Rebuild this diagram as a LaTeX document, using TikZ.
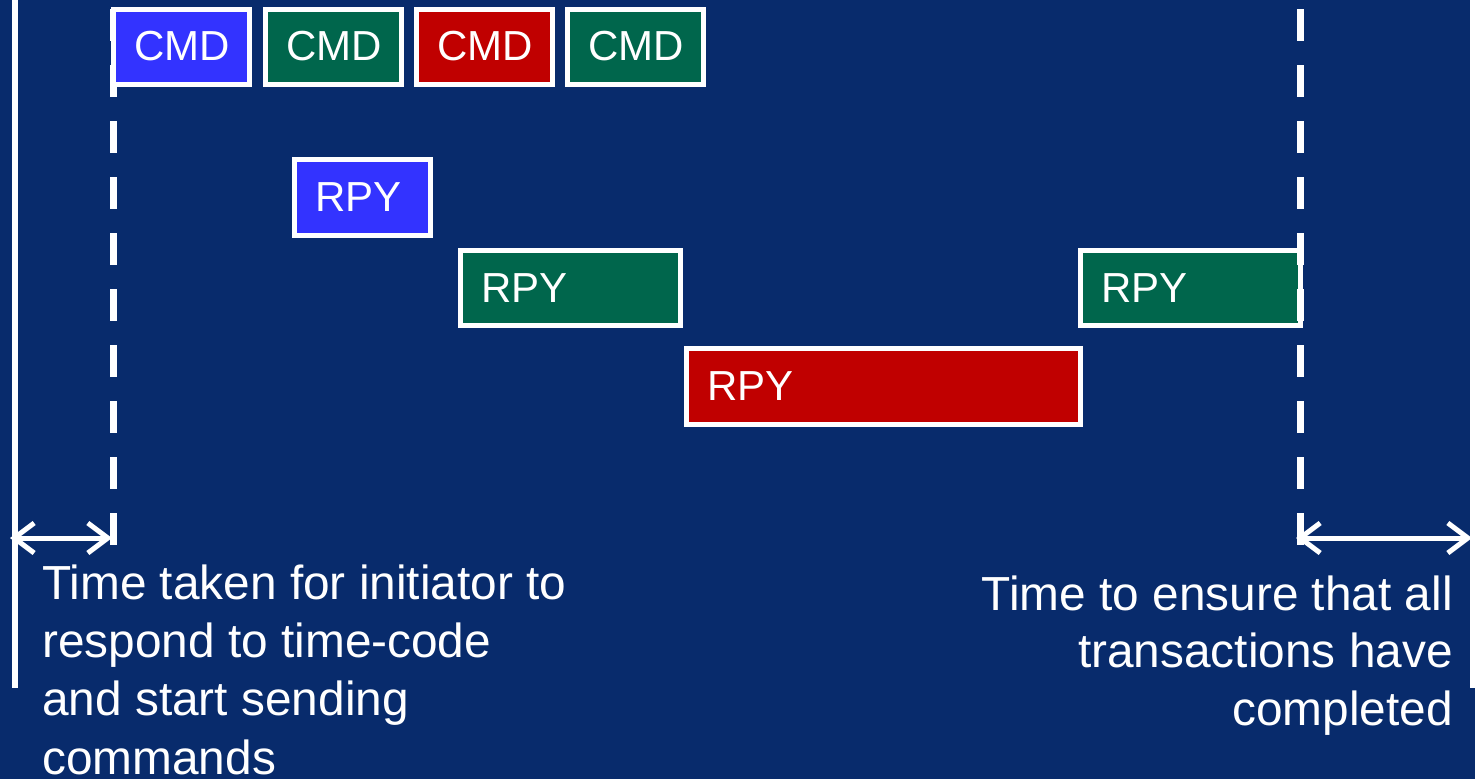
\documentclass[tikz,border=0pt]{standalone}
\usepackage{fontspec}
\setmainfont{Liberation Sans}
\usetikzlibrary{arrows.meta}
\definecolor{bg}{RGB}{8,43,108}
\definecolor{cblue}{RGB}{51,51,255}
\definecolor{cgreen}{RGB}{0,102,76}
\definecolor{cred}{RGB}{192,0,0}
\tikzset{
  box/.style={draw=white, line width=5pt, text=white, outer sep=0pt,
    inner xsep=21pt, inner ysep=0pt, align=left, anchor=north west,
    font=\fontsize{42}{50}\selectfont},
  cmdbox/.style={box, minimum width=136pt, text width=94pt, minimum height=75pt},
  vline/.style={white, line width=6pt},
  dline/.style={white, line width=7pt, dash pattern=on 32pt off 24pt},
  span/.style={white, line width=5pt, {Straight Barb[length=20pt,width=30pt]}-{Straight Barb[length=20pt,width=30pt]}},
  note/.style={text=white, inner sep=0pt}
}
\begin{document}
\begin{tikzpicture}[x=1pt,y=-1pt]
\fill[bg] (0,0) rectangle (1475,779);
\useasboundingbox (0,0) rectangle (1475,779);
% solid side lines
\coordinate (lt) at (15,0); \coordinate (lb) at (15,688);
\coordinate (rt) at (1473,0); \coordinate (rb) at (1473,688);
\draw[vline] (lt) -- (lb);
\draw[vline] (rt) -- (rb);
% dashed lines
\coordinate (dlt) at (113,9); \coordinate (dlb) at (113,545);
\coordinate (drt) at (1300,9); \coordinate (drb) at (1300,545);
\draw[dline] (dlt) -- (dlb);
% commands
\node[cmdbox, fill=cblue] (cmd1) at (113,9) {CMD};
\node[cmdbox, fill=cgreen] (cmd2) at (265,9) {CMD};
\node[cmdbox, fill=cred] (cmd3) at (416,9) {CMD};
\node[cmdbox, fill=cgreen] (cmd4) at (567,9) {CMD};
% replies
\node[box, fill=cblue, minimum width=136pt, text width=94pt, minimum height=76pt] (rpy1) at (294.5,159.5) {RPY};
\node[box, fill=cgreen, minimum width=220pt, text width=178pt, minimum height=75pt] (rpy2) at (460.5,250.5) {RPY};
\node[box, fill=cred, minimum width=394pt, text width=352pt, minimum height=76pt] (rpy3) at (686.5,348.5) {RPY};
\node[box, fill=cgreen, minimum width=220pt, text width=178pt, minimum height=75pt] (rpy4) at (1080.5,250.5) {RPY};
\draw[dline] (drt) -- (drb);
% span arrows
\coordinate (al) at (10,538); \coordinate (ar) at (112,538);
\coordinate (bl) at (1296,538); \coordinate (br) at (1472,538);
\draw[span] (al) -- (ar);
\draw[span] (bl) -- (br);
% notes
\node[note, anchor=base west, align=left, font=\fontsize{47.8}{58.3}\selectfont] (nl) at (42,774) {Time taken for initiator to\\respond to time-code\\and start sending\\commands};
\node[note, anchor=base east, align=right, font=\fontsize{47.8}{57.5}\selectfont] (nr) at (1453,725) {Time to ensure that all\\transactions have\\completed};
\end{tikzpicture}
\end{document}
